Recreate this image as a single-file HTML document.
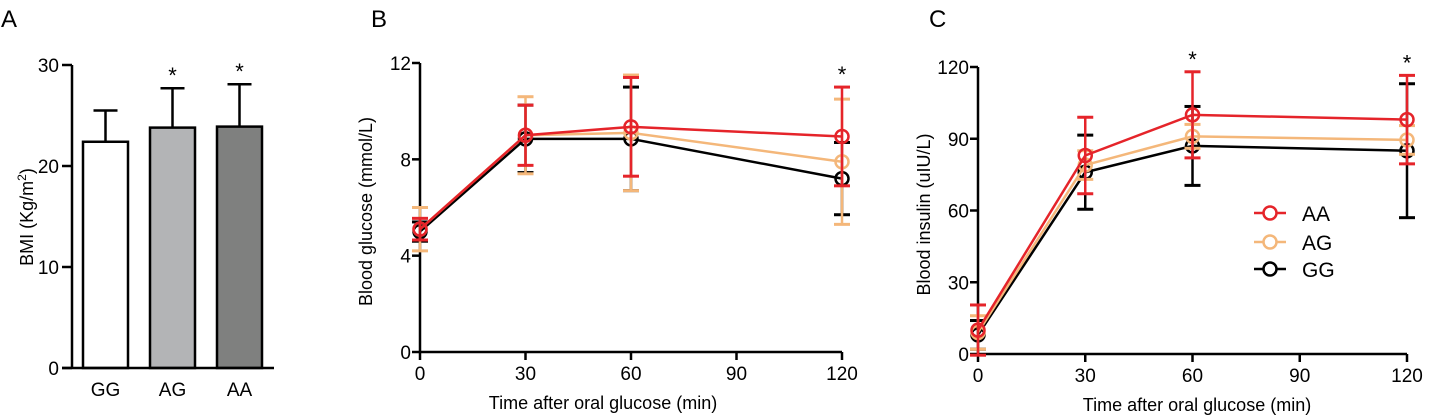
<!DOCTYPE html>
<html><head><meta charset="utf-8"><style>
body{margin:0;background:#fff;}
svg{display:block;font-family:"Liberation Sans",Arial,sans-serif;}
</style></head><body>
<svg id="svg" width="1432" height="417" viewBox="0 0 1432 417"></svg>
<script>
// Panel A data
const barCats=["GG","AG","AA"];
const barVals=[22.4,23.8,23.9];
const barErr=[3.1,3.9,4.2];
const barSig=[false,true,true];
const barFills=["#ffffff","#b3b4b6","#7f807f"];
const bmiTicks=[0,10,20,30];
// Panel B/C data
const times=[0,30,60,120];
const xTicks=[0,30,60,90,120];
const seriesNames=["GG","AG","AA"];
const seriesColors=["#000000","#f4b77a","#e5242a"];
const gluGG=[5.0,8.85,8.85,7.2];
const gluAG=[5.1,9.0,9.1,7.9];
const gluAA=[5.1,9.0,9.35,8.95];
const gluErrGG=[0.4,1.4,2.15,1.5];
const gluErrAG=[0.9,1.6,2.4,2.6];
const gluErrAA=[0.45,1.25,2.05,2.05];
const gluTicks=[0,4,8,12];
const gluSig=[false,false,false,true];
const insGG=[8,76,87,85];
const insAG=[9,79,91,89.5];
const insAA=[10,83,100,98];
const insErrGG=[6,15.5,16.5,28];
const insErrAG=[7,6,5,6];
const insErrAA=[10.5,16,18,18.5];
const insTicks=[0,30,60,90,120];
const insSig=[false,false,true,true];

const NS="http://www.w3.org/2000/svg";
const svg=document.getElementById('svg');
function el(tag,attrs,parent){const e=document.createElementNS(NS,tag);for(const k in attrs)e.setAttribute(k,attrs[k]);(parent||svg).appendChild(e);return e;}
function txt(s,attrs,parent){const e=el('text',attrs,parent);e.textContent=s;return e;}

let t;
t=txt("A",{x:1,y:27,"font-size":24});
t=txt("B",{x:371,y:27,"font-size":24});
t=txt("C",{x:929,y:27,"font-size":24});

// ---- Panel A ----
(function(){
 const g=el('g',{});
 
 
 const x0=72,y0=368,y1=65,max=30;
 const y=v=>y0-(v/max)*(y0-y1);
 const xs=[83,150,217],bw=45;
 barVals.forEach((v,i)=>{
  const cx=xs[i]+bw/2;
  const e=el('line',{x1:cx,x2:cx,y1:y(v),y2:y(v+barErr[i]),stroke:"#000","stroke-width":2.5},g);
  
  
  el('line',{x1:cx-12,x2:cx+12,y1:y(v+barErr[i]),y2:y(v+barErr[i]),stroke:"#000","stroke-width":2.5},g);
  const r=el('rect',{x:xs[i],y:y(v),width:bw,height:y0-y(v),fill:barFills[i],stroke:"#000","stroke-width":2.5},g);
  
  
  const l=txt(barCats[i],{x:cx,y:396,"font-size":19,"text-anchor":"middle"},g);
  
  
  if(barSig[i]){const s=txt("*",{x:cx,y:y(v+barErr[i])-5,"font-size":22,"text-anchor":"middle"},g);
   
   }
 });
 const ax=el('path',{d:`M${x0} ${y1}V${y0}M${x0-10} ${y0}H274`,stroke:"#000","stroke-width":2.5,fill:"none"},g);
 
 
 bmiTicks.forEach(v=>{
  el('line',{x1:62,x2:x0,y1:y(v),y2:y(v),stroke:"#000","stroke-width":2.5},g);
  const l=txt(String(v),{x:59,y:y(v)+7,"font-size":19,"text-anchor":"end"},g);
  
  
 });
 const yt=el('text',{x:0,y:0,"font-size":18,"text-anchor":"middle",transform:"translate(33 217) rotate(-90)"},g);
 yt.innerHTML='BMI (Kg/m<tspan dy="-7" font-size="12">2</tspan><tspan dy="7">)</tspan>';
 
 
})();

// ---- Line panels ----
function linePanel(name,o){
 const g=el('g',{});
 
 
 const xs=v=>o.x0+(v/120)*(o.x1-o.x0);
 const ys=v=>o.y0-(v/o.max)*(o.y0-o.y1);
 const ax=el('path',{d:`M${o.x0} ${o.y1}V${o.y0}H${o.x1}`,stroke:"#000","stroke-width":2.5,fill:"none"},g);
 
 
 o.yTicks.forEach(v=>{
  el('line',{x1:o.x0-8,x2:o.x0,y1:ys(v),y2:ys(v),stroke:"#000","stroke-width":2.5},g);
  const l=txt(String(v),{x:o.x0-9,y:ys(v)+7,"font-size":19,"text-anchor":"end"},g);
  
  
 });
 xTicks.forEach(v=>{
  el('line',{x1:xs(v),x2:xs(v),y1:o.y0,y2:o.y0+8,stroke:"#000","stroke-width":2.5},g);
  const l=txt(String(v),{x:xs(v),y:o.y0+28,"font-size":19,"text-anchor":"middle"},g);
  
  
 });
 const xt=txt("Time after oral glucose (min)",{x:o.xtc,y:o.y0+57,"font-size":18,"text-anchor":"middle"},g);
 
 
 const yt=txt(o.ytitle,{x:0,y:0,"font-size":18,"text-anchor":"middle",transform:`translate(${o.x0-48} ${(o.y0+o.y1)/2+4}) rotate(-90)`},g);
 
 
 o.series.forEach((s,si)=>{
  const c=seriesColors[si];
  const sg=el('g',{},g);
  
  
  s.vals.forEach((v,i)=>{
   const x=xs(times[i]);
   el('line',{x1:x,x2:x,y1:ys(v-s.err[i]),y2:ys(v+s.err[i]),stroke:c,"stroke-width":2.5},sg);
   [v-s.err[i],v+s.err[i]].forEach(e=>el('line',{x1:x-8,x2:x+8,y1:ys(e),y2:ys(e),stroke:c,"stroke-width":3},sg));
  });
  el('polyline',{points:s.vals.map((v,i)=>xs(times[i])+','+ys(v)).join(' '),fill:"none",stroke:c,"stroke-width":2.5},sg);
  s.vals.forEach((v,i)=>{
   const p=el('circle',{cx:xs(times[i]),cy:ys(v),r:6.5,fill:"none",stroke:c,"stroke-width":2.5},sg);
   
   
  });
 });
 o.sig.forEach((sg,i)=>{
  if(!sg)return;
  const top=Math.max(...o.series.map(s=>s.vals[i]+s.err[i]));
  const st=txt("*",{x:xs(times[i]),y:ys(top)-5,"font-size":22,"text-anchor":"middle"},g);
  
  
 });
 return g;
}
linePanel('glucose-chart',{x0:420,x1:842,y0:352,y1:63,max:12,xtc:603,yTicks:gluTicks,ytitle:"Blood glucose (mmol/L)",sig:gluSig,
 series:[{vals:gluGG,err:gluErrGG},{vals:gluAG,err:gluErrAG},{vals:gluAA,err:gluErrAA}]});
linePanel('insulin-chart',{x0:978,x1:1407,y0:354,y1:67,max:120,xtc:1197,yTicks:insTicks,ytitle:"Blood insulin (uIU/L)",sig:insSig,
 series:[{vals:insGG,err:insErrGG},{vals:insAG,err:insErrAG},{vals:insAA,err:insErrAA}]});

const lg=el('g',{});


[["AA",2,213],["AG",1,242],["GG",0,269]].forEach(([n,ci,yy])=>{
 const e=el('g',{},lg);
 
 
 el('line',{x1:1254,x2:1286,y1:yy,y2:yy,stroke:seriesColors[ci],"stroke-width":2.5},e);
 el('circle',{cx:1270,cy:yy,r:6.5,fill:"#fff",stroke:seriesColors[ci],"stroke-width":2.5},e);
 txt(n,{x:1302,y:yy+8,"font-size":21},e);
});
</script>
</body></html>
